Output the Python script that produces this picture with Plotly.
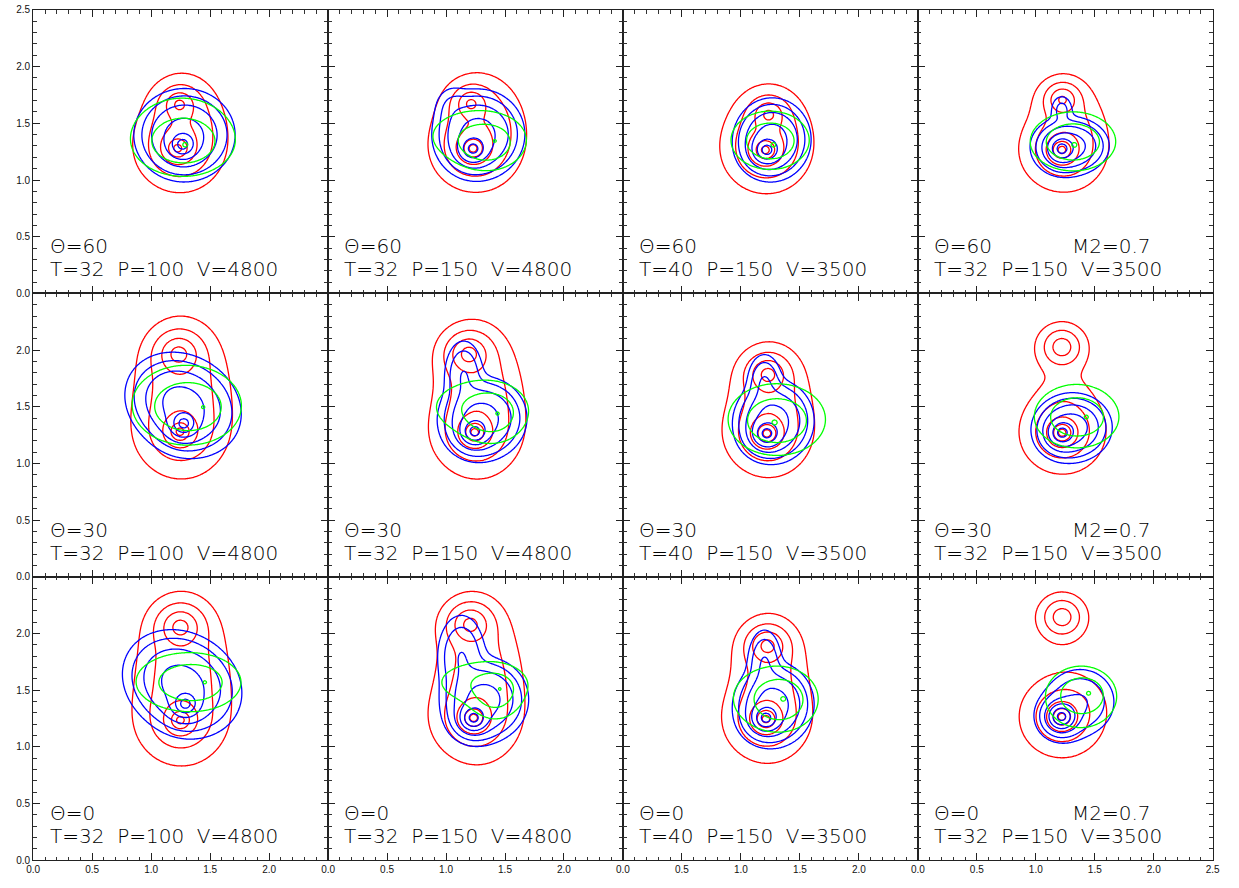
import numpy as np
import plotly.graph_objects as go

# ---------------- data ----------------
THETA_LABELS = ["\u0398=60", "\u0398=30", "\u0398=0"]
PARAM_LABELS = ["T=32  P=100  V=4800", "T=32  P=150  V=4800",
                "T=40  P=150  V=3500", "T=32  P=150  V=3500"]
EXTRA_LABELS = ["", "", "", "M2=0.7"]

# component = [x0, y0, sx, sy, amplitude, p (0 = gaussian), angle_deg]
RED = [
    [[[1.225,1.28,.027,.027,1,1,0],[1.24,1.665,.05,.05,.25,2,0],[1.28,1.46,.16,.22,.05,0,0]],
     [[1.229,1.279,.027,.027,1,1,0],[1.212,1.672,.05,.05,.25,2,0],[1.31,1.47,.17,.22,.05,0,0]],
     [[1.207,1.265,.027,.027,1,1,0],[1.235,1.576,.05,.05,.25,2,0],[1.24,1.40,.16,.2,.04,0,0]],
     [[1.221,1.265,.027,.027,1,1,0],[1.226,1.707,.052,.052,.25,2,0],[1.31,1.42,.14,.2,.025,0,0]]],
    [[[1.245,1.28,.027,.027,1,1,0],[1.234,1.963,.064,.064,.316,2,0],[1.27,1.62,.2,.32,.045,0,0]],
     [[1.243,1.274,.027,.027,1,1,0],[1.193,1.963,.064,.064,.316,2,0],[1.29,1.58,.18,.3,.045,0,0]],
     [[1.22,1.265,.027,.027,1,1,0],[1.229,1.783,.06,.06,.3,2,0],[1.26,1.5,.16,.25,.035,0,0]],
     [[1.224,1.271,.027,.027,1,1,0],[1.221,2.027,.067,.067,.138,2,0],[1.25,1.45,.15,.2,.012,0,0]]],
    [[[1.248,1.236,.027,.027,1,1,0],[1.248,2.055,.064,.064,.316,2,0],[1.27,1.64,.2,.33,.045,0,0]],
     [[1.234,1.256,.027,.027,1,1,0],[1.206,2.078,.064,.064,.3,2,0],[1.29,1.6,.18,.32,.045,0,0]],
     [[1.212,1.245,.027,.027,1,1,0],[1.226,1.89,.06,.06,.3,2,0],[1.25,1.55,.16,.28,.035,0,0]],
     [[1.221,1.265,.027,.027,1,1,0],[1.223,2.145,.067,.067,.138,2,0],[1.32,1.38,.14,.14,.01,0,0]]],
]
BLUE = [
    [[[1.267,1.314,.037,.037,.9,2.5,0],[1.283,1.40,.164,.156,.12,0,0]],
     [[1.229,1.276,.037,.037,.9,2.5,0],[1.276,1.406,.15,.152,.12,0,0],[1.05,1.65,.08,.1,.01,0,0]],
     [[1.22,1.265,.037,.037,.9,2.5,0],[1.266,1.364,.125,.138,.12,0,0]],
     [[1.221,1.276,.037,.037,.9,2.5,0],[1.30,1.30,.123,.096,.12,0,0],[1.22,1.62,.05,.07,.015,0,0]]],
    [[[1.276,1.353,.037,.037,.9,2.5,0],[1.27,1.52,.2,.165,.12,0,-35]],
     [[1.243,1.284,.037,.037,.9,2.5,0],[1.31,1.40,.144,.141,.12,0,0],[1.15,1.78,.08,.15,.03,0,0]],
     [[1.22,1.265,.037,.037,.9,2.5,0],[1.28,1.38,.13,.14,.12,0,0],[1.2,1.72,.07,.12,.03,0,0]],
     [[1.224,1.271,.037,.037,.9,2.5,0],[1.318,1.32,.126,.115,.12,0,0]]],
    [[[1.29,1.38,.037,.037,.9,2.5,0],[1.262,1.56,.205,.17,.12,0,-35]],
     [[1.234,1.256,.037,.037,.9,2.5,0],[1.33,1.42,.142,.143,.12,0,0],[1.13,1.80,.1,.18,.03,0,0]],
     [[1.212,1.256,.037,.037,.9,2.5,0],[1.28,1.38,.13,.142,.12,0,0],[1.2,1.75,.07,.14,.03,0,0]],
     [[1.218,1.268,.037,.037,.9,2.5,0],[1.38,1.40,.14,.14,.03,0,0]]],
]
GREEN = [
    [[[1.26,1.41,.296,.238,.3,0,0],[1.28,1.32,.207,.138,.4,0,0],[1.289,1.31,.02,.02,.5,1,0]],
     [[1.25,1.39,.278,.162,.3,0,0],[1.35,1.30,.159,.123,.4,0,0],[1.415,1.346,.02,.02,.5,1,0]],
     [[1.245,1.36,.222,.171,.3,0,0],[1.25,1.34,.149,.114,.4,0,0],[1.276,1.308,.02,.02,.5,1,0]],
     [[1.32,1.35,.225,.173,.3,0,0],[1.31,1.33,.178,.116,.4,0,0],[1.327,1.308,.02,.02,.5,1,0]]],
    [[[1.285,1.54,.308,.233,.3,0,0],[1.32,1.48,.212,.158,.4,0,0],[1.443,1.497,.02,.02,.5,1,0]],
     [[1.26,1.50,.263,.158,.3,0,0],[1.39,1.42,.159,.145,.4,0,0],[1.438,1.44,.02,.02,.5,1,0]],
     [[1.30,1.41,.276,.205,.3,0,0],[1.31,1.36,.188,.145,.4,0,0],[1.285,1.361,.02,.02,.5,1,0]],
     [[1.34,1.43,.225,.188,.3,0,0],[1.35,1.40,.174,.123,.4,0,0],[1.43,1.41,.02,.02,.5,1,0]]],
    [[[1.29,1.58,.30,.169,.3,0,0],[1.35,1.56,.196,.121,.4,0,0],[1.457,1.57,.02,.02,.5,1,0]],
     [[1.30,1.57,.263,.128,.3,0,0],[1.42,1.45,.13,.13,.4,0,0],[1.457,1.511,.02,.02,.5,1,0]],
     [[1.27,1.43,.252,.192,.3,0,0],[1.34,1.41,.145,.134,.4,0,0],[1.36,1.424,.02,.02,.5,1,0]],
     [[1.374,1.43,.21,.192,.3,0,0],[1.395,1.46,.127,.109,.4,0,0],[1.45,1.474,.02,.02,.5,1,0]]],
]
# contour levels (natural log of the density)
RED_LEVELS = (-4.5, -0.5)
BLUE_LEVELS = (-5.5, -0.5)
GREEN_LEVELS = (-2.0, 0.0)
COLORS = {"red": "#ff0000", "blue": "#0000ff", "green": "#00ff00"}

# ---------------- build ----------------
gx = np.arange(0.55, 2.0001, 0.01)
gy = np.arange(0.65, 2.5001, 0.01)
GX, GY = np.meshgrid(gx, gy)


def density(comps):
    z = np.zeros_like(GX)
    for x0, y0, sx, sy, a, p, ang in comps:
        t = np.deg2rad(ang)
        dx, dy = GX - x0, GY - y0
        u = dx * np.cos(t) + dy * np.sin(t)
        v = -dx * np.sin(t) + dy * np.cos(t)
        q = (u / sx) ** 2 + (v / sy) ** 2
        if p == 0:
            z += a * np.exp(-q / 2)
        else:
            z += a * (1 + q / (2 * p)) ** (-p)
    return np.log(np.maximum(z, 1e-12)).astype(np.float32)


W, H = 1239, 888
LEFT, PW = 26.5, 298.25
TOP, PH = 5.0, 286.67

fig = go.Figure()
layout = {}
ann = []
for r in range(3):
    for c in range(4):
        i = r * 4 + c + 1
        xa = "x" if i == 1 else f"x{i}"
        ya = "y" if i == 1 else f"y{i}"
        for name, data, lv in (("red", RED, RED_LEVELS), ("blue", BLUE, BLUE_LEVELS),
                               ("green", GREEN, GREEN_LEVELS)):
            fig.add_trace(go.Contour(
                x=gx.astype(np.float32), y=gy.astype(np.float32), z=density(data[r][c]),
                xaxis=xa, yaxis=ya, showscale=False, hoverinfo="skip",
                autocontour=False,
                contours=dict(coloring="lines", start=lv[0], end=lv[1], size=1.0),
                colorscale=[[0, COLORS[name]], [1, COLORS[name]]],
                line=dict(width=1.3, smoothing=1.0)))
        x0 = (LEFT + c * PW) / W
        x1 = (LEFT + (c + 1) * PW) / W
        ytop = 1 - (TOP + r * PH) / H
        ybot = 1 - (TOP + (r + 1) * PH) / H
        xt = [0, 0.5, 1.0, 1.5, 2.0] + ([2.5] if c == 3 else [])
        yt = [0, 0.5, 1.0, 1.5, 2.0] + ([2.5] if r == 0 else [])
        common = dict(range=[0, 2.5], showline=True, linecolor="#222", linewidth=1.3,
                      mirror="allticks", ticks="inside", ticklen=7, tickwidth=1.1,
                      tickcolor="#222", showgrid=False, zeroline=False,
                      tickformat=".1f", ticklabeloverflow="allow",
                      tickfont=dict(family="Liberation Sans, Arial", size=10, color="#111"),
                      minor=dict(ticks="inside", ticklen=3.5, tickwidth=1, dtick=0.1,
                                 tickcolor="#333", showgrid=False))
        layout["xaxis" if i == 1 else f"xaxis{i}"] = dict(
            common, domain=[x0, x1], anchor=ya, tickvals=xt, showticklabels=(r == 2))
        layout["yaxis" if i == 1 else f"yaxis{i}"] = dict(
            common, domain=[ybot, ytop], anchor=xa, tickvals=yt, showticklabels=(c == 0))
        tf = dict(family="DejaVu Sans", size=20, color="#000", weight=300)
        ann.append(dict(x=0.13, y=0.415, xref=xa, yref=ya, text=THETA_LABELS[r],
                        showarrow=False, xanchor="left", yanchor="middle", font=tf,
                        borderpad=0))
        ann.append(dict(x=0.13, y=0.212, xref=xa, yref=ya, text=PARAM_LABELS[c],
                        showarrow=False, xanchor="left", yanchor="middle", font=tf,
                        borderpad=0))
        if EXTRA_LABELS[c]:
            ann.append(dict(x=1.30, y=0.415, xref=xa, yref=ya, text=EXTRA_LABELS[c],
                            showarrow=False, xanchor="left", yanchor="middle", font=tf,
                            borderpad=0))

fig.update_layout(width=W, height=H, margin=dict(l=0, r=0, t=0, b=0),
                  paper_bgcolor="white", plot_bgcolor="white", showlegend=False,
                  annotations=ann, **layout)
fig.write_html("out.html")
